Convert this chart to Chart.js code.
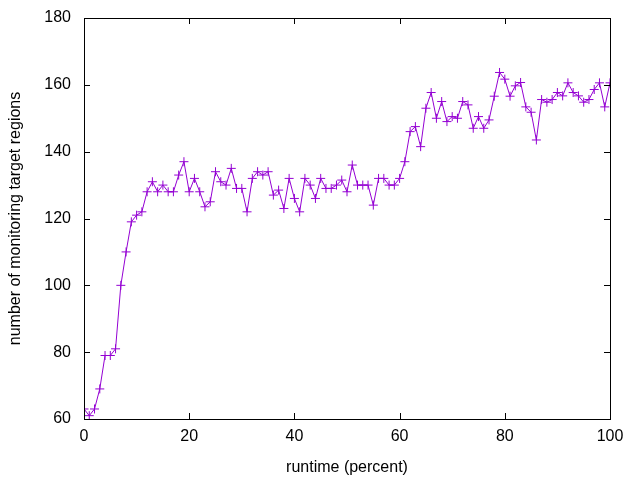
<!DOCTYPE html>
<html>
<head>
<meta charset="utf-8">
<script src="https://cdn.jsdelivr.net/npm/chart.js@4/dist/chart.umd.min.js"></script>
<style>
  body { margin: 0; background: #fff; }
</style>
</head>
<body>
<canvas id="chart" width="640" height="480"></canvas>
<script>
const runtime = [
  0, 1, 2, 3, 4, 5, 6, 7, 8, 9, 10, 11, 12, 13, 14, 15, 16, 17, 18, 19,
  20, 21, 22, 23, 24, 25, 26, 27, 28, 29, 30, 31, 32, 33, 34, 35, 36, 37, 38, 39,
  40, 41, 42, 43, 44, 45, 46, 47, 48, 49, 50, 51, 52, 53, 54, 55, 56, 57, 58, 59,
  60, 61, 62, 63, 64, 65, 66, 67, 68, 69, 70, 71, 72, 73, 74, 75, 76, 77, 78, 79,
  80, 81, 82, 83, 84, 85, 86, 87, 88, 89, 90, 91, 92, 93, 94, 95, 96, 97, 98, 99,
  100
];

const regions = [
  63, 61, 63, 69, 79, 79, 81, 100, 110, 119, 121, 122, 128, 131, 128, 130, 128, 128, 133, 137,
  128, 132, 128, 123.5, 125, 134, 131, 130, 135, 129, 129, 122, 132, 134, 133, 134, 127, 128.5, 123, 132,
  126, 122, 132, 130, 126, 132, 129, 129, 130, 131.5, 128, 136, 130, 130, 130, 124, 132, 132, 130, 130,
  132, 137, 146, 147.5, 141.5, 153, 157.7, 150, 155, 149, 150.5, 150, 155, 154, 147, 150.5, 147, 149.5, 156.6, 163.7,
  161.7, 156.6, 159.7, 160.7, 153.4, 151.8, 143.5, 155.6, 154.8, 155.6, 157.7, 156.7, 160.6, 157.7, 156.7, 154.8, 155.6, 158.6, 160.6, 153.4,
  160.6
];

const xTicks = [0, 20, 40, 60, 80, 100];
const yTicks = [60, 80, 100, 120, 140, 160, 180];

const FONT = "'Liberation Sans', Arial, sans-serif";

// gnuplot-style frame: full box with inward ticks on all four sides
const frameBox = {
  id: "frameBox",
  afterDraw(chart) {
    const { ctx, chartArea: { left, right, top, bottom }, scales: { x, y } } = chart;
    const t = 6;
    ctx.save();
    ctx.strokeStyle = "#000";
    ctx.lineWidth = 1;
    ctx.strokeRect(left + 0.5, top + 0.5, right - left, bottom - top);
    ctx.beginPath();
    xTicks.forEach((v) => {
      const px = Math.round(x.getPixelForValue(v)) + 0.5;
      ctx.moveTo(px, bottom);
      ctx.lineTo(px, bottom - t);
      ctx.moveTo(px, top);
      ctx.lineTo(px, top + t);
    });
    yTicks.forEach((v) => {
      const py = Math.round(y.getPixelForValue(v)) + 0.5;
      ctx.moveTo(left, py);
      ctx.lineTo(left + t, py);
      ctx.moveTo(right, py);
      ctx.lineTo(right - t, py);
    });
    ctx.stroke();
    ctx.restore();
  },
};

new Chart(document.getElementById("chart"), {
  type: "line",
  data: {
    datasets: [
      {
        data: runtime.map((r, i) => ({ x: r, y: regions[i] })),
        borderColor: "#9400d3",
        backgroundColor: "#9400d3",
        borderWidth: 1,
        tension: 0,
        pointStyle: "cross",
        pointRadius: 4.5,
        pointBorderWidth: 1,
        pointBorderColor: "#9400d3",
      },
    ],
  },
  options: {
    responsive: false,
    animation: false,
    devicePixelRatio: 1,
    layout: { padding: { top: 18, right: 30, left: 0, bottom: 0 } },
    plugins: { legend: { display: false }, tooltip: { enabled: false } },
    scales: {
      x: {
        type: "linear",
        min: 0,
        max: 100,
        afterBuildTicks(scale) { scale.ticks = xTicks.map((v) => ({ value: v })); },
        afterFit(scale) { scale.height = 61; },
        grid: { display: false, drawTicks: false },
        border: { display: false },
        ticks: { color: "#000", padding: 8, maxRotation: 0, font: { family: FONT, size: 16 } },
        title: {
          display: true,
          text: "runtime (percent)",
          color: "#000",
          font: { family: FONT, size: 16 },
          padding: { top: 2, bottom: 3 },
        },
      },
      y: {
        min: 60,
        max: 180,
        afterBuildTicks(scale) { scale.ticks = yTicks.map((v) => ({ value: v })); },
        afterFit(scale) {
          scale.width = 84;
          scale.paddingTop = 0;
          scale.paddingBottom = 0;
        },
        grid: { display: false, drawTicks: false },
        border: { display: false },
        ticks: { color: "#000", padding: 13, font: { family: FONT, size: 16 } },
        title: {
          display: true,
          text: "number of monitoring target regions",
          color: "#000",
          font: { family: FONT, size: 16 },
          padding: { top: 6, bottom: 0 },
        },
      },
    },
  },
  plugins: [frameBox],
});
</script>
</body>
</html>
